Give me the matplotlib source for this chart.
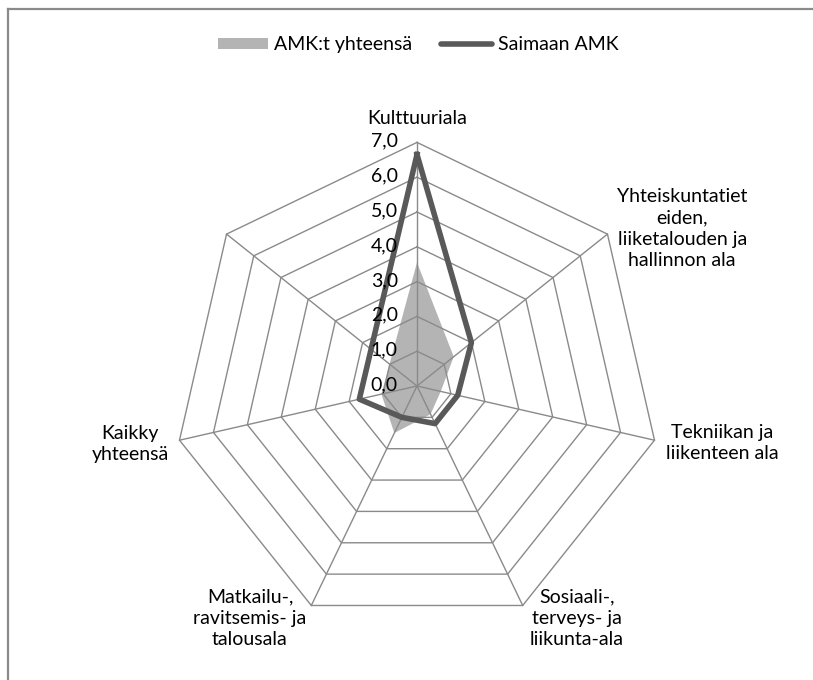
import numpy as np
import matplotlib
matplotlib.use("Agg")
from matplotlib import pyplot as plt
from matplotlib.lines import Line2D
from matplotlib.patches import Patch

# Categories clockwise from the top (the last one is blank in the source chart)
categories = [
    "Kulttuuriala",
    "Yhteiskuntatiet\neiden,\nliiketalouden ja\nhallinnon ala",
    "Tekniikan ja\nliikenteen ala",
    "Sosiaali-,\nterveys- ja\nliikunta-ala",
    "Matkailu-,\nravitsemis- ja\ntalousala",
    "Kaikky\nyhteensä",
    "",
]
amk_total = [3.55, 1.35, 0.7, 0.9, 1.5, 1.05, np.nan]
saimaa = [6.65, 2.0, 1.2, 1.2, 1.0, 1.7, np.nan]
ring_values = [0, 1, 2, 3, 4, 5, 6, 7]
ring_labels = ["0,0", "1,0", "2,0", "3,0", "4,0", "5,0", "6,0", "7,0"]

grid_col = "#8a8a8a"
fill_col = "#b4b4b4"
line_col = "#595959"
fs = 14

plt.rcParams["font.family"] = ["Lato", "DejaVu Sans"]

n = len(categories)
angles = np.arange(n) * 2 * np.pi / n


def to_xy(values):
    vals = np.asarray(values, dtype=float)
    keep = ~np.isnan(vals)
    x = vals[keep] * np.sin(angles[keep])
    y = vals[keep] * np.cos(angles[keep])
    return np.append(x, x[0]), np.append(y, y[0])


fig = plt.figure(figsize=(8.13, 6.80), dpi=100)
ax = fig.add_axes([0, 0, 1, 1])
scale = 34.8  # pixels per unit
ax.set_xlim(-417 / scale, (813 - 417) / scale)
ax.set_ylim(-(680 - 386) / scale, 386 / scale)
ax.axis("off")

# filled series below the grid
fx, fy = to_xy(amk_total)
ax.fill(fx, fy, color=fill_col, lw=0, zorder=1)

# heptagon rings and spokes
for r in ring_values[1:]:
    gx, gy = to_xy([r] * n)
    ax.plot(gx, gy, color=grid_col, lw=1.0, zorder=2)
rmax = ring_values[-1]
for a in angles:
    ax.plot([0, rmax * np.sin(a)], [0, rmax * np.cos(a)], color=grid_col, lw=1.0, zorder=2)

# line series
lx, ly = to_xy(saimaa)
ax.plot(lx, ly, color=line_col, lw=4.0, solid_joinstyle="round", zorder=3)

# radial tick labels
for r, lab in zip(ring_values, ring_labels):
    ax.text(-0.55, r + 0.03, lab, ha="right", va="center", fontsize=fs, color="black", zorder=4)

# category labels
label_pos = [
    (0.0, 7.7),
    (7.62, 4.53),
    (8.77, -1.64),
    (4.6, -6.68),
    (-4.8, -6.68),
    (-8.24, -1.67),
    (0, 0),
]
for lab, (tx, ty) in zip(categories, label_pos):
    if lab:
        ax.text(tx, ty, lab, ha="center", va="center", fontsize=fs,
                linespacing=1.32, color="black")

# legend
handles = [
    Patch(facecolor=fill_col, edgecolor="none"),
    Line2D([0], [0], color=line_col, lw=4.0, solid_capstyle="round"),
]
fig.legend(handles, ["AMK:t yhteensä", "Saimaan AMK"], loc="center",
           bbox_to_anchor=(0.514, 0.934), ncol=2, frameon=False, fontsize=fs,
           handlelength=2.6, handleheight=0.55, handletextpad=0.3, columnspacing=1.5)

# chart area border (top and left edges visible)
fig.add_artist(Line2D([7.5 / 813, 1], [1 - 8.5 / 680, 1 - 8.5 / 680],
                      transform=fig.transFigure, color=grid_col, lw=1.6))
fig.add_artist(Line2D([7.5 / 813, 7.5 / 813], [0, 1 - 8.5 / 680],
                      transform=fig.transFigure, color=grid_col, lw=1.6))

fig.savefig("out.png", dpi=100, facecolor="white")
